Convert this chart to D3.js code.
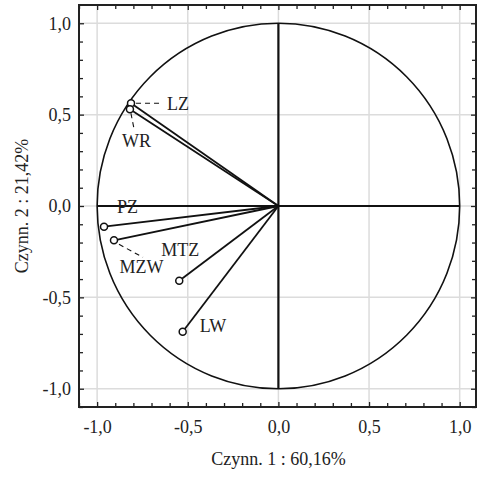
<!DOCTYPE html>
<html><head><meta charset="utf-8">
<script src="https://cdn.jsdelivr.net/npm/d3@7"></script>
<style>
html,body{margin:0;padding:0;background:#fff;}
svg{display:block;}
text{font-family:"Liberation Serif","Times New Roman",serif;fill:#222;}
</style></head>
<body>
<svg id="chart" width="479" height="477"></svg>
<script>
// ---- data ----
const labels = ["LZ", "WR", "PZ", "MZW", "MTZ", "LW"];
const xVals  = [-0.813, -0.819, -0.962, -0.907, -0.547, -0.528];
const yVals  = [ 0.562,  0.529, -0.113, -0.188, -0.409, -0.688];
const majorTicks = [-1.0, -0.5, 0.0, 0.5, 1.0];
const minorTicks = [-1.1,-0.9,-0.8,-0.7,-0.6,-0.4,-0.3,-0.2,-0.1,0.1,0.2,0.3,0.4,0.6,0.7,0.8,0.9];
const xTitle = "Czynn. 1 : 60,16%";
const yTitle = "Czynn. 2 : 21,42%";

// ---- layout (label offsets in px from the point, leader segments) ----
const labelLayout = {
  LZ:  {dx: 36,  dy: 7,   leader: [[5, 0], [31, 0]]},
  WR:  {dx: -8,  dy: 37.5, leader: [[1, 4], [4, 19]]},
  PZ:  {dx: 13,  dy: -14, leader: null},
  MZW: {dx: 5.5, dy: 33,  leader: [[5, 4], [29, 17]]},
  MTZ: {dx: -18, dy: -25, leader: null},
  LW:  {dx: 17,  dy: 0.5, leader: null}
};

const fmt = v => d3.format(".1f")(v).replace(".", ",").replace("−", "-");
const svg = d3.select("#chart");
const L = 79, R = 476, T = 5, B = 407;
const x = d3.scaleLinear().domain([-1.1, 1.09]).range([L, R]);
const y = d3.scaleLinear().domain([-1.1, 1.1]).range([B, T]);
const FS = 18;

// grid
const g = svg.append("g");
g.selectAll(".gx").data(majorTicks).join("line")
  .attr("x1", d => x(d)).attr("x2", d => x(d)).attr("y1", T).attr("y2", B)
  .attr("stroke", "#dcdcdc").attr("stroke-width", 1.5);
g.selectAll(".gy").data(majorTicks).join("line")
  .attr("y1", d => y(d)).attr("y2", d => y(d)).attr("x1", L).attr("x2", R)
  .attr("stroke", "#dcdcdc").attr("stroke-width", 1.5);

// axes (ticks inward)
function styleAxis(sel) {
  sel.select(".domain").remove();
  sel.selectAll("line").attr("stroke", "#222").attr("stroke-width", 1.3);
  sel.selectAll("text").attr("font-size", FS).attr("fill", "#222")
     .attr("font-family", '"Liberation Serif","Times New Roman",serif');
}
const bottomMajor = d3.axisBottom(x).tickValues(majorTicks).tickSize(-5).tickPadding(13).tickFormat(fmt);
const bottomMinor = d3.axisBottom(x).tickValues(minorTicks).tickSize(-4).tickFormat("");
const leftMajor = d3.axisLeft(y).tickValues(majorTicks).tickSize(-5).tickPadding(8).tickFormat(fmt);
const leftMinor = d3.axisLeft(y).tickValues(minorTicks).tickSize(-4).tickFormat("");
const topMajor = d3.axisTop(x).tickValues(majorTicks).tickSize(-5).tickFormat("");
const topMinor = d3.axisTop(x).tickValues(minorTicks).tickSize(-4).tickFormat("");
const rightMajor = d3.axisRight(y).tickValues(majorTicks).tickSize(-5).tickFormat("");
const rightMinor = d3.axisRight(y).tickValues(minorTicks).tickSize(-4).tickFormat("");

svg.append("g").attr("transform", `translate(0,${B})`).call(bottomMajor).call(styleAxis);
svg.append("g").attr("transform", `translate(0,${B})`).call(bottomMinor).call(styleAxis);
svg.append("g").attr("transform", `translate(${L},0)`).call(leftMajor).call(styleAxis);
svg.append("g").attr("transform", `translate(${L},0)`).call(leftMinor).call(styleAxis);
svg.append("g").attr("transform", `translate(0,${T})`).call(topMajor).call(styleAxis);
svg.append("g").attr("transform", `translate(0,${T})`).call(topMinor).call(styleAxis);
svg.append("g").attr("transform", `translate(${R},0)`).call(rightMajor).call(styleAxis);
svg.append("g").attr("transform", `translate(${R},0)`).call(rightMinor).call(styleAxis);

// frame
svg.append("rect").attr("x", L).attr("y", T).attr("width", R - L).attr("height", B - T)
  .attr("fill", "none").attr("stroke", "#222").attr("stroke-width", 2);

// unit circle
svg.append("ellipse").attr("cx", x(0)).attr("cy", y(0))
  .attr("rx", x(1) - x(0)).attr("ry", y(0) - y(1))
  .attr("fill", "none").attr("stroke", "#111").attr("stroke-width", 1.6);

// crosshair
svg.append("line").attr("x1", x(-1)).attr("x2", x(1)).attr("y1", y(0)).attr("y2", y(0))
  .attr("stroke", "#111").attr("stroke-width", 2.2);
svg.append("line").attr("x1", x(0)).attr("x2", x(0)).attr("y1", y(1)).attr("y2", y(-1))
  .attr("stroke", "#111").attr("stroke-width", 2.2);

// vectors
const pts = labels.map((l, i) => ({label: l, vx: xVals[i], vy: yVals[i]}));
svg.append("g").selectAll("line").data(pts).join("line")
  .attr("x1", x(0)).attr("y1", y(0))
  .attr("x2", d => x(d.vx)).attr("y2", d => y(d.vy))
  .attr("stroke", "#111").attr("stroke-width", 1.8);

// leaders
svg.append("g").selectAll("line").data(pts.filter(d => labelLayout[d.label].leader)).join("line")
  .attr("x1", d => x(d.vx) + labelLayout[d.label].leader[0][0])
  .attr("y1", d => y(d.vy) + labelLayout[d.label].leader[0][1])
  .attr("x2", d => x(d.vx) + labelLayout[d.label].leader[1][0])
  .attr("y2", d => y(d.vy) + labelLayout[d.label].leader[1][1])
  .attr("stroke", "#111").attr("stroke-width", 1.1).attr("stroke-dasharray", "5,4");

// markers
svg.append("g").selectAll("circle").data(pts).join("circle")
  .attr("cx", d => x(d.vx)).attr("cy", d => y(d.vy)).attr("r", 3.5)
  .attr("fill", "#fff").attr("stroke", "#111").attr("stroke-width", 1.5);

// labels
svg.append("g").selectAll("text").data(pts).join("text")
  .attr("x", d => x(d.vx) + labelLayout[d.label].dx)
  .attr("y", d => y(d.vy) + labelLayout[d.label].dy)
  .attr("font-size", FS).text(d => d.label);

// titles
svg.append("text").attr("x", x(0)).attr("y", 465).attr("text-anchor", "middle")
  .attr("font-size", FS).text(xTitle);
svg.append("text").attr("transform", `translate(28,${y(0)}) rotate(-90)`)
  .attr("text-anchor", "middle").attr("font-size", FS).text(yTitle);
</script>
</body></html>
